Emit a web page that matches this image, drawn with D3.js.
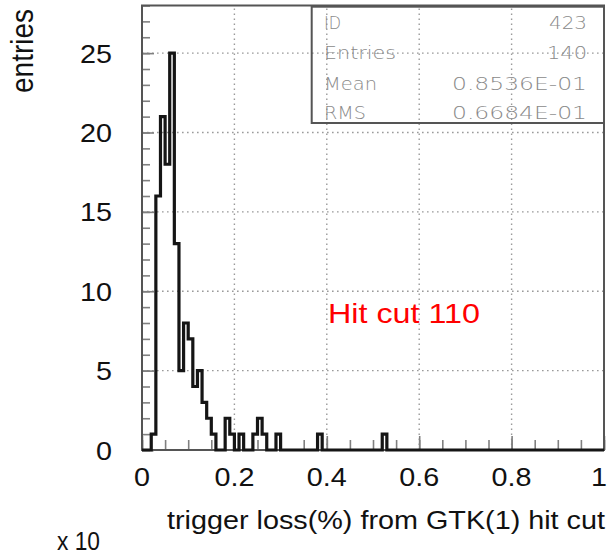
<!DOCTYPE html>
<html>
<head>
<meta charset="utf-8">
<script src="https://cdn.jsdelivr.net/npm/d3@7"></script>
<style>
  html, body { margin: 0; padding: 0; background: #fff; }
  svg { display: block; }
  text { font-family: "Liberation Sans", Arial, Helvetica, sans-serif; }
</style>
</head>
<body>
<svg id="chart" width="610" height="554"></svg>
<script>
// ---- data ----
const binLows   = [0.02, 0.03, 0.04, 0.05, 0.06, 0.07, 0.08, 0.09, 0.10, 0.11, 0.12, 0.13, 0.14, 0.15, 0.18, 0.19, 0.21, 0.24, 0.25, 0.26, 0.29, 0.38, 0.52];
const binCounts = [1,    16,   21,   18,   25,   13,   5,    8,    7,    4,    5,    3,    2,    1,    2,    1,    1,    1,    2,    1,    1,    1,    1];
const xTickValues = [0, 0.2, 0.4, 0.6, 0.8, 1];
const xTickLabels = ["0", "0.2", "0.4", "0.6", "0.8", "1"];
const yTickValues = [0, 5, 10, 15, 20, 25];
const yTickLabels = ["0", "5", "10", "15", "20", "25"];
const statLabels = ["ID", "Entries", "Mean", "RMS"];
const statValues = ["423", "140", "0.8536E-01", "0.6684E-01"];
const xTitle = "trigger loss(%) from GTK(1) hit cut";
const yTitle = "entries";
const xExponent = "x 10";
const note = "Hit cut 110";
const nBins = 100, xMin = 0, xMax = 1, yMax = 28;

// ---- layout ----
const svg = d3.select("#chart");
const x = d3.scaleLinear().domain([xMin, xMax]).range([142, 604]);
const y = d3.scaleLinear().domain([0, yMax]).range([450, 5.5]);
const SX = 1.15; // horizontal glyph stretch of the reference

// full histogram contents
const binW = (xMax - xMin) / nBins;
const full = d3.range(nBins).map(i => ({ lo: xMin + i * binW, c: 0 }));
binLows.forEach((lo, j) => {
  const i = Math.round((lo - xMin) / binW);
  full[i].c = binCounts[j];
});

// ---- grid (dotted) ----
const grid = svg.append("g").attr("stroke", "#9a9a9a").attr("stroke-width", 1.4)
  .attr("stroke-dasharray", "1.6 3.4").attr("fill", "none");
grid.selectAll("line.gx").data(xTickValues.filter(v => v > xMin && v < xMax)).join("line")
  .attr("x1", d => x(d)).attr("x2", d => x(d)).attr("y1", y(0)).attr("y2", y(yMax));
grid.selectAll("line.gy").data(yTickValues.filter(v => v > 0)).join("line")
  .attr("x1", x(xMin)).attr("x2", x(xMax)).attr("y1", d => y(d)).attr("y2", d => y(d));

// ---- ticks via d3 axes ----
const yMinor = svg.append("g").attr("transform", `translate(${x(xMin)},0)`)
  .call(d3.axisLeft(y).tickValues(d3.range(0, yMax + 1, 1)).tickSize(-8).tickFormat(""));
const yMajor = svg.append("g").attr("transform", `translate(${x(xMin)},0)`)
  .call(d3.axisLeft(y).tickValues(yTickValues).tickSize(-12).tickFormat(""));
const xMinor = svg.append("g").attr("transform", `translate(0,${y(0)})`)
  .call(d3.axisBottom(x).tickValues(d3.range(0, 1.0001, 0.05)).tickSize(-10).tickFormat(""));
const xMajor = svg.append("g").attr("transform", `translate(0,${y(0)})`)
  .call(d3.axisBottom(x).tickValues(xTickValues).tickSize(-14).tickFormat(""));
[yMinor, yMajor, xMinor, xMajor].forEach(g => {
  g.select(".domain").remove();
  g.selectAll(".tick line").attr("stroke", "#808080").attr("stroke-width", 1.6);
});

// ---- frame ----
svg.append("rect")
  .attr("x", x(xMin)).attr("y", y(yMax))
  .attr("width", x(xMax) - x(xMin)).attr("height", y(0) - y(yMax))
  .attr("fill", "none").attr("stroke", "#555").attr("stroke-width", 2);

// ---- histogram outline ----
const pts = full.map(b => [b.lo, b.c]).concat([[xMax, 0]]);
svg.append("path")
  .datum(pts)
  .attr("d", d3.line().x(d => x(d[0])).y(d => y(d[1])).curve(d3.curveStepAfter))
  .attr("fill", "none").attr("stroke", "#151515").attr("stroke-width", 3.2)
  .attr("stroke-linejoin", "miter");

// ---- tick labels ----
svg.append("g").selectAll("text").data(yTickValues).join("text")
  .attr("transform", d => `translate(112,${y(d) + 9.5}) scale(${SX},1)`)
  .attr("text-anchor", "end").attr("font-size", 25).attr("fill", "#111")
  .text((d, i) => yTickLabels[i]);
svg.append("g").selectAll("text").data(xTickValues).join("text")
  .attr("transform", d => `translate(${Math.min(x(d), 599)},486) scale(${SX},1)`)
  .attr("text-anchor", "middle").attr("font-size", 25).attr("fill", "#111")
  .text((d, i) => xTickLabels[i]);

// ---- titles ----
svg.append("text")
  .attr("transform", `translate(33,9) scale(${SX},1) rotate(-90)`)
  .attr("text-anchor", "end").attr("font-size", 28).attr("fill", "#111")
  .text(yTitle);
svg.append("text")
  .attr("x", 167).attr("y", 529)
  .attr("textLength", 438).attr("lengthAdjust", "spacingAndGlyphs")
  .attr("font-size", 25).attr("fill", "#111")
  .text(xTitle);
svg.append("text")
  .attr("x", 57).attr("y", 550)
  .attr("textLength", 43).attr("lengthAdjust", "spacingAndGlyphs")
  .attr("font-size", 25).attr("fill", "#111")
  .text(xExponent);

// ---- red note ----
svg.append("text")
  .attr("x", 328).attr("y", 323)
  .attr("textLength", 152).attr("lengthAdjust", "spacingAndGlyphs")
  .attr("font-size", 28).attr("fill", "#ff0000")
  .text(note);

// ---- stats box ----
const box = svg.append("g");
box.append("rect")
  .attr("x", 311.7).attr("y", 6.7).attr("width", 604 - 311.7).attr("height", 123 - 6.7)
  .attr("fill", "none").attr("stroke", "#555").attr("stroke-width", 2);
const rowBase = [28.5, 59, 89.5, 118.5];
const labelLen = [17, 72, 53, 42];
const valueLen = [38, 40, 135, 135];
box.selectAll("text.lab").data(statLabels).join("text")
  .attr("class", "lab")
  .attr("x", 324).attr("y", (d, i) => rowBase[i])
  .attr("textLength", (d, i) => labelLen[i]).attr("lengthAdjust", "spacingAndGlyphs")
  .attr("font-size", 18).attr("fill", "#8a8a8a")
  .style("font-family", "'DejaVu Sans', sans-serif").style("font-weight", 200)
  .text(d => d);
box.selectAll("text.val").data(statValues).join("text")
  .attr("class", "val")
  .attr("x", 587).attr("y", (d, i) => rowBase[i])
  .attr("text-anchor", "end")
  .attr("textLength", (d, i) => valueLen[i]).attr("lengthAdjust", "spacingAndGlyphs")
  .attr("font-size", 18).attr("fill", "#8a8a8a")
  .style("font-family", "'DejaVu Sans', sans-serif").style("font-weight", 200)
  .text(d => d);
</script>
</body>
</html>
